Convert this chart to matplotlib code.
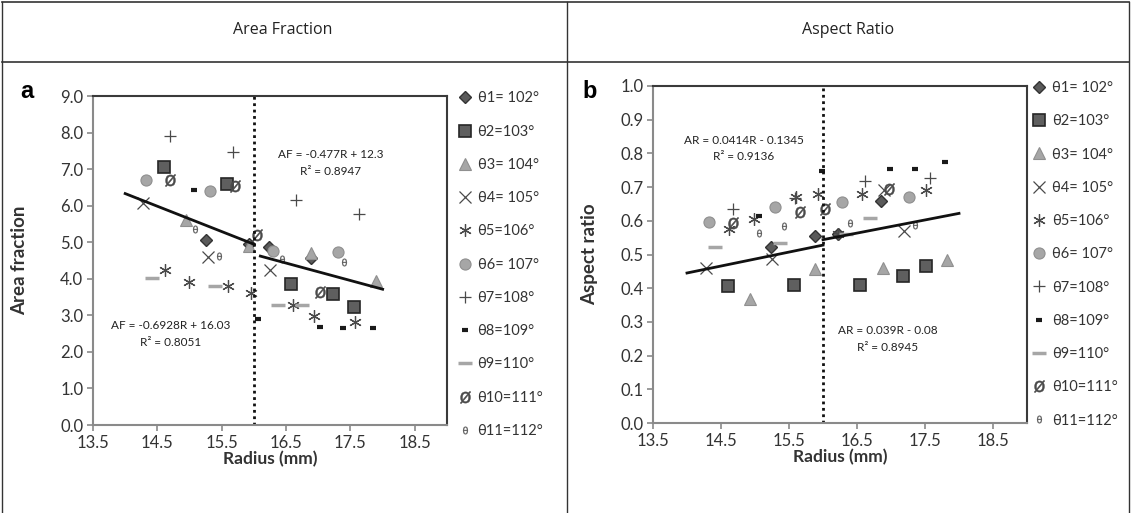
import matplotlib.pyplot as plt
from matplotlib.lines import Line2D

plt.rcParams['font.family'] = ['Lato', 'DejaVu Sans']

W, H = 1131, 513

# Легенда (одинаковая для обоих графиков)
labels = ['θ1= 102°', 'θ2=103°', 'θ3= 104°', 'θ4= 105°', 'θ5=106°', 'θ6= 107°',
          'θ7=108°', 'θ8=109°', 'θ9=110°', 'θ10=111°', 'θ11=112°']

# (a) Area fraction: радиус и значения для каждой серии
af_x = [
    [15.26, 15.92, 16.23, 16.89],
    [14.61, 15.58, 16.57, 17.23, 17.56],
    [14.95, 15.92, 16.89, 17.89],
    [14.28, 15.28, 16.25],
    [14.62, 14.99, 15.60, 15.95, 16.61, 16.93, 17.57],
    [14.33, 15.32, 16.30, 17.30],
    [14.69, 15.68, 16.65, 17.63],
    [15.07, 16.06, 17.03, 17.39, 17.85],
    [14.42, 15.40, 16.38, 16.75],
    [14.70, 15.71, 16.05, 17.02],
    [15.09, 15.45, 16.43, 17.40],
]
af_y = [
    [5.05, 4.95, 4.86, 4.57],
    [7.05, 6.58, 3.85, 3.59, 3.22],
    [5.62, 4.90, 4.71, 3.93],
    [6.07, 4.59, 4.25],
    [4.25, 3.91, 3.79, 3.61, 3.27, 2.99, 2.83],
    [6.69, 6.41, 4.75, 4.73],
    [7.90, 7.46, 6.15, 5.78],
    [6.42, 2.90, 2.68, 2.65, 2.65],
    [4.02, 3.79, 3.27, 3.27],
    [6.71, 6.53, 5.20, 3.63],
    [5.37, 4.61, 4.54, 4.46],
]

# (b) Aspect ratio
ar_x = [
    [15.24, 15.88, 16.22, 16.86],
    [14.60, 15.57, 16.54, 17.18, 17.52],
    [14.93, 15.88, 16.88, 17.83],
    [14.28, 15.25, 16.90, 17.19],
    [14.62, 14.98, 15.60, 15.93, 16.22, 16.57, 17.52],
    [14.32, 15.30, 16.28, 17.26],
    [14.67, 15.59, 16.62, 17.58],
    [15.06, 15.99, 16.99, 17.35, 17.79],
    [14.41, 15.37, 16.34, 16.69],
    [14.67, 15.66, 16.03, 16.97],
    [15.06, 15.43, 16.39, 17.35],
]
ar_y = [
    [0.523, 0.555, 0.560, 0.659],
    [0.407, 0.409, 0.409, 0.436, 0.467],
    [0.367, 0.457, 0.459, 0.484],
    [0.459, 0.486, 0.691, 0.570],
    [0.576, 0.604, 0.670, 0.679, 0.560, 0.681, 0.691],
    [0.595, 0.640, 0.657, 0.670],
    [0.635, 0.667, 0.718, 0.728],
    [0.615, 0.749, 0.754, 0.755, 0.775],
    [0.523, 0.533, 0.560, 0.609],
    [0.593, 0.627, 0.634, 0.693],
    [0.563, 0.585, 0.593, 0.588],
]

# Линии тренда: (наклон, смещение, от, до)
af_fits = [(-0.6928, 16.03, 14.0, 16.0), (-0.477, 12.3, 16.1, 18.0)]
ar_fits = [(0.0414, -0.1345, 14.0, 16.0), (0.039, -0.08, 16.0, 18.0)]

styles = [
    dict(marker='D', ms=6, mfc='#5a5a5a', mec='#333333', mew=1.0),
    dict(marker='s', ms=8, mfc='#5f5f5f', mec='#262626', mew=1.2),
    dict(marker='^', ms=8, mfc='#a6a6a6', mec='#8f8f8f', mew=0.8),
    dict(marker='x', ms=8, mfc='none', mec='#4a4a4a', mew=0.9),
    dict(marker=(6, 2, 0), ms=9, mfc='none', mec='#4a4a4a', mew=0.9),
    dict(marker='o', ms=8, mfc='#a6a6a6', mec='#8f8f8f', mew=0.8),
    dict(marker='+', ms=9, mfc='none', mec='#4a4a4a', mew=0.9),
    dict(marker='_', ms=5, mfc='none', mec='#1a1a1a', mew=3.0),
    dict(marker='_', ms=10, mfc='none', mec='#a6a6a6', mew=2.5),
    dict(marker='$\\mathrm{ø}$', ms=9, mfc='#4a4a4a', mec='#4a4a4a', mew=0.3),
    dict(marker='$\\mathrm{θ}$', ms=5.5, mfc='#5a5a5a', mec='#5a5a5a', mew=0.2),
]

fig = plt.figure(figsize=(W / 100, H / 100), dpi=100)


def px(x0, y0, x1, y1):
    return [x0 / W, 1 - y1 / H, (x1 - x0) / W, (y1 - y0) / H]


def fig_line(xs, ys, lw=1.0, color='#333333'):
    fig.add_artist(Line2D([x / W for x in xs], [1 - y / H for y in ys],
                          transform=fig.transFigure, color=color, lw=lw))


# Таблица вокруг графиков
fig_line([2, 1129], [2, 2], lw=1.2)
fig_line([2, 1129], [62, 62], lw=1.2)
fig_line([2, 2], [2, 513], lw=1.0)
fig_line([567, 567], [2, 513], lw=1.0)
fig_line([1129, 1129], [2, 513], lw=1.0)
fig.text(283 / W, 1 - 30 / H, 'Area Fraction', ha='center', va='center',
         fontsize=11.5, family=['Open Sans', 'DejaVu Sans'], color='#222222')
fig.text(848 / W, 1 - 30 / H, 'Aspect Ratio', ha='center', va='center',
         fontsize=11.5, family=['Open Sans', 'DejaVu Sans'], color='#222222')


def draw_panel(ax, xs, ys, fits, ylim, yticks, ylabel, ylab_x, leg_x, texts):
    for x, y, st, lab in zip(xs, ys, styles, labels):
        ax.plot(x, y, linestyle='none', label=lab, **st)
    for k, b, r0, r1 in fits:
        ax.plot([r0, r1], [k * r0 + b, k * r1 + b], color='#111111', lw=2.0, zorder=3)
    ax.axvline(16.0, color='#111111', lw=2.0, ls=(0, (1, 1.3)), zorder=2)
    for tx, ty, s in texts:
        ax.text(tx, ty, s, ha='center', va='center', fontsize=8.5, color='#222222')

    ax.set_xlim(13.5, 19.0)
    ax.set_xticks([13.5, 14.5, 15.5, 16.5, 17.5, 18.5])
    ax.set_xticklabels(['13.5', '14.5', '15.5', '16.5', '17.5', '18.5'])
    ax.set_ylim(*ylim)
    ax.set_yticks(yticks)
    ax.set_yticklabels([f'{v:.1f}' for v in yticks])
    ax.tick_params(direction='out', length=4, width=1.2, color='#8a8a8a',
                   labelsize=12, labelcolor='#333333', pad=3)
    for s in ['left', 'bottom']:
        ax.spines[s].set_color('#8a8a8a')
        ax.spines[s].set_linewidth(1.5)
    for s in ['top', 'right']:
        ax.spines[s].set_color('#3a3a3a')
        ax.spines[s].set_linewidth(1.5)
    ax.set_xlabel('Radius (mm)', fontsize=12.5, fontweight='bold', color='#333333', labelpad=0)
    ax.set_ylabel(ylabel, fontsize=13.5, fontweight='bold', color='#333333')
    ax.yaxis.set_label_coords(ylab_x, 0.5)

    ax.legend(loc='upper left', bbox_to_anchor=(leg_x, 1.045), frameon=False,
              fontsize=10.5, labelcolor='#333333', labelspacing=1.32,
              handlelength=1.0, handletextpad=0.4, borderaxespad=0.3)


ax1 = fig.add_axes(px(93, 96, 447, 425))
draw_panel(ax1, af_x, af_y, af_fits, (0, 9.0), [i * 1.0 for i in range(10)], 'Area fraction',
           -0.184, 1.0,
           [(17.19, 7.4, 'AF = -0.477R + 12.3'), (17.19, 6.93, 'R² = 0.8947'),
            (14.71, 2.71, 'AF = -0.6928R + 16.03'), (14.71, 2.27, 'R² = 0.8051')])

ax2 = fig.add_axes(px(653, 86, 1027, 423))
draw_panel(ax2, ar_x, ar_y, ar_fits, (0, 1.0), [i * 0.1 for i in range(11)], 'Aspect ratio',
           -0.147, 0.985,
           [(14.84, 0.837, 'AR = 0.0414R - 0.1345'), (14.84, 0.79, 'R² = 0.9136'),
            (16.95, 0.273, 'AR = 0.039R - 0.08'), (16.95, 0.223, 'R² = 0.8945')])

fig.text(20 / W, 1 - 92 / H, 'a', fontsize=17, fontweight='bold', ha='left', va='center',
         family=['Liberation Sans', 'DejaVu Sans'])
fig.text(582 / W, 1 - 92 / H, 'b', fontsize=17, fontweight='bold', ha='left', va='center',
         family=['Liberation Sans', 'DejaVu Sans'])

fig.savefig('out.png', dpi=100)
